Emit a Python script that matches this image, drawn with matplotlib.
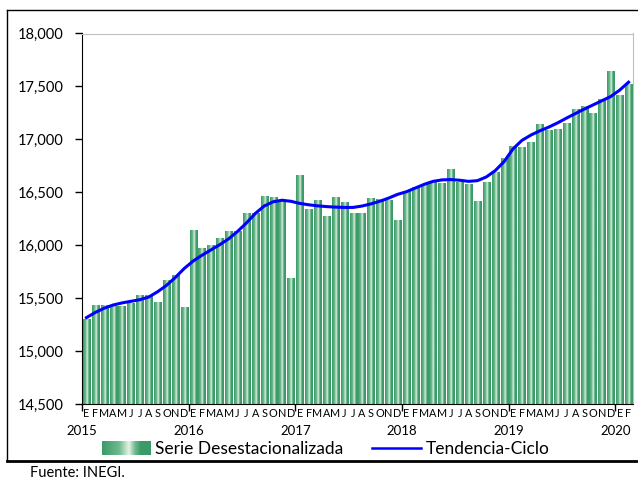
import numpy as np
import matplotlib.pyplot as plt
from matplotlib.colors import LinearSegmentedColormap
from matplotlib.lines import Line2D
from matplotlib.ticker import FuncFormatter

plt.rcParams['font.family'] = ['Lato', 'DejaVu Sans']

meses = ['E', 'F', 'M', 'A', 'M', 'J', 'J', 'A', 'S', 'O', 'N', 'D']
anios = ['2015', '2016', '2017', '2018', '2019', '2020']

serie = [15300, 15432, 15432, 15422, 15422, 15454, 15527, 15527, 15460, 15668, 15716, 15416,
         16141, 15971, 16000, 16066, 16132, 16132, 16296, 16296, 16463, 16453, 16416, 15690,
         16662, 16340, 16425, 16274, 16453, 16406, 16302, 16302, 16444, 16435, 16425, 16236,
         16510, 16548, 16576, 16605, 16586, 16718, 16595, 16576, 16416, 16595, 16690, 16822,
         16936, 16926, 16974, 17144, 17087, 17097, 17153, 17286, 17314, 17248, 17380, 17645,
         17418, 17522]

tendencia = [15316, 15365, 15405, 15435, 15455, 15470, 15485, 15510, 15560, 15620, 15695, 15780,
             15850, 15905, 15955, 16005, 16060, 16130, 16210, 16300, 16370, 16410, 16425, 16415,
             16395, 16382, 16372, 16365, 16360, 16357, 16357, 16370, 16390, 16415, 16445, 16480,
             16505, 16540, 16575, 16603, 16617, 16620, 16614, 16603, 16610, 16645, 16705, 16790,
             16910, 16990, 17040, 17080, 17115, 17155, 17200, 17243, 17285, 17325, 17365, 17405,
             17465, 17540]

verde = LinearSegmentedColormap.from_list('verde', [
    (0.0, '#3a9a68'), (0.35, '#6fbb8e'), (0.55, '#e6f3e6'),
    (0.68, '#6fb98c'), (0.8, '#3a9a68'), (1.0, '#3a9a68')])
grad = np.linspace(0, 1, 64).reshape(1, -1)

fig = plt.figure(figsize=(6.38, 4.8), dpi=100)
ax = fig.add_axes([82/638, 1-404/480, 551/638, 370.5/480])

ymin, ymax = 14500, 18000
ancho = 0.8
for i, v in enumerate(serie):
    ax.imshow(grad, cmap=verde, aspect='auto', interpolation='bilinear',
              extent=(i - ancho/2, i + ancho/2, ymin, v), zorder=2)

x = np.arange(len(tendencia))
ax.plot(x, tendencia, color='#0000ff', lw=2.2, zorder=3)

ax.set_xlim(-0.5, len(serie) - 0.5)
ax.set_ylim(ymin, ymax)
ax.set_yticks(np.arange(14500, 18001, 500))
ax.yaxis.set_major_formatter(FuncFormatter(lambda v, p: f'{v:,.0f}'))
ax.tick_params(axis='y', labelsize=10.5, length=5, width=1, direction='out', pad=8)

bordes = np.arange(-0.5, len(serie), 12)
ax.set_xticks(bordes)
ax.set_xticklabels([])
ax.tick_params(axis='x', length=5, width=1, direction='out')

for i in range(len(serie)):
    ax.text(i, -0.026, meses[i % 12], transform=ax.get_xaxis_transform(),
            ha='center', va='center', fontsize=7.8)
for b, a in zip(bordes, anios):
    ax.text(b, -0.074, a, transform=ax.get_xaxis_transform(),
            ha='center', va='center', fontsize=9.5)

for s in ['top', 'right']:
    ax.spines[s].set_color('#c0c0c0')
for s in ['left', 'bottom']:
    ax.spines[s].set_color('black')

# leyenda
lax = fig.add_axes([0, 0, 1, 1], zorder=-1)
lax.axis('off')
lax.imshow(grad, cmap=verde, aspect='auto', interpolation='bilinear',
           extent=(102, 151, 455, 441))
lax.text(155, 449, 'Serie Desestacionalizada', fontsize=12.5, va='center')
lax.add_line(Line2D([372, 421], [448, 448], color='#0000ff', lw=1.8))
lax.text(426, 449, 'Tendencia-Ciclo', fontsize=12.5, va='center')

# marco
lax.add_line(Line2D([7, 7], [10, 461], color='black', lw=1))
lax.add_line(Line2D([7, 638], [10, 10], color='black', lw=1))
lax.add_line(Line2D([7, 638], [461, 461], color='black', lw=2))
lax.text(30, 473, 'Fuente: INEGI.', fontsize=10.5, va='center')
lax.set_xlim(0, 638)
lax.set_ylim(480, 0)

fig.savefig('out.png', dpi=100)
